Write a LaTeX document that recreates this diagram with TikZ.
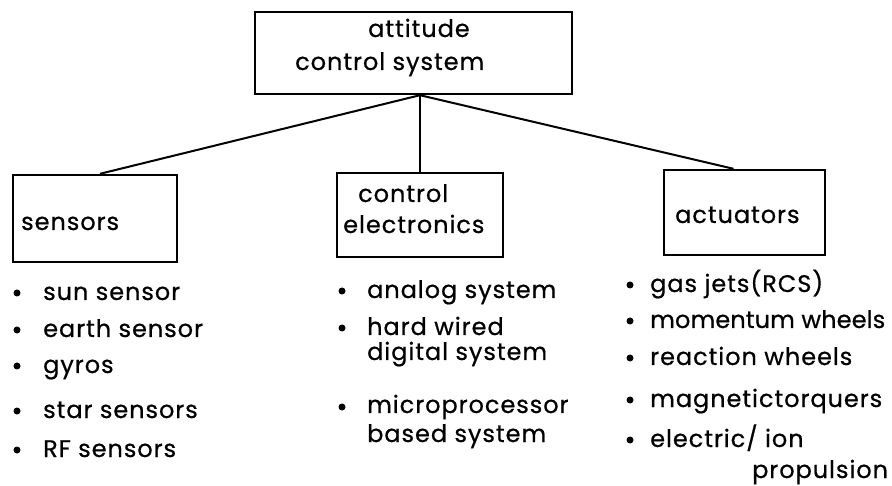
\documentclass[tikz,border=0pt]{standalone}
\usepackage{fontspec}
\newfontfamily\diagfont{Poppins}[LetterSpace=4, FakeBold=0.6]
\newfontfamily\diagtight{Poppins}[LetterSpace=0.5, FakeBold=0.6]
\begin{document}
\begin{tikzpicture}[x=1pt, y=-1pt,
  box/.style={draw, line width=2.4pt, rectangle, inner sep=0pt},
  lbl/.style={anchor=base west, inner sep=0pt, font=\diagfont\fontsize{24}{28}\selectfont},
  tightlbl/.style={lbl, font=\diagtight\fontsize{24}{28}\selectfont},
  dot/.style={circle, fill, inner sep=0pt, minimum size=7pt},
  link/.style={line width=2pt}]
\useasboundingbox (0,0) rectangle (892,486);

% the four boxes
\node[box, minimum width=317pt, minimum height=82pt] (top) at (413.5,53) {};
\node[box, minimum width=164pt, minimum height=87pt] (sens) at (95,218.5) {};
\node[box, minimum width=166pt, minimum height=84pt] (ctrl) at (420,215) {};
\node[box, minimum width=161pt, minimum height=85pt] (act) at (744.5,212.5) {};

% box captions
\node[lbl] (t1) at (368,37) {attitude};
\node[lbl] (t2) at (295,70) {control system};
\node[lbl] (s0) at (21,230) {sensors};
\node[lbl] (c1) at (358,202) {control};
\node[lbl] (c2) at (343,233) {electronics};
\node[lbl] (a0) at (675,223) {actuators};

% tree connectors
\coordinate (j) at (top.south -| ctrl.north);
\coordinate (actin) at ([xshift=-11pt]act.north);
\coordinate (sensin) at ([xshift=5pt]sens.north);
\draw[link] (j) -- (sensin);
\draw[link] (j) -- (ctrl.north);
\draw[link] (j) -- (actin);

% sensors list
\foreach \n/\y/\txt in {1/300/sun sensor, 2/337/earth sensor, 3/373/gyros,
                        4/418/star sensors, 5/457/RF sensors}{
  \node[dot] (sd\n) at (17,\y-7) {};
  \node[lbl] (sl\n) at (43,\y) {\txt};
}

% control electronics list
\node[dot] (cd1) at (342,291) {};
\node[lbl] (cl1) at (367,298) {analog system};
\node[dot] (cd2) at (342,328) {};
\node[lbl] (cl2) at (367,335) {hard wired};
\node[lbl] (cl2b) at (367,360) {digital system};
\node[dot] (cd3) at (342,407) {};
\node[lbl] (cl3) at (367,413) {microprocessor};
\node[lbl] (cl3b) at (367,442) {based system};

% actuators list
\foreach \n/\y/\txt in {1/292/{gas jets(RCS)}, 3/365/{reaction wheels},
                        4/407/{magnetictorquers}, 5/447/{electric/ ion}}{
  \node[dot] (ad\n) at (630,\y-7) {};
  \node[lbl] (al\n) at (650,\y) {\txt};
}
\node[dot] (ad2) at (630,321) {};
\node[tightlbl] (al2) at (650,328) {momentum wheels};
\node[lbl] (al5b) at (752,478) {propulsion};
\end{tikzpicture}
\end{document}
